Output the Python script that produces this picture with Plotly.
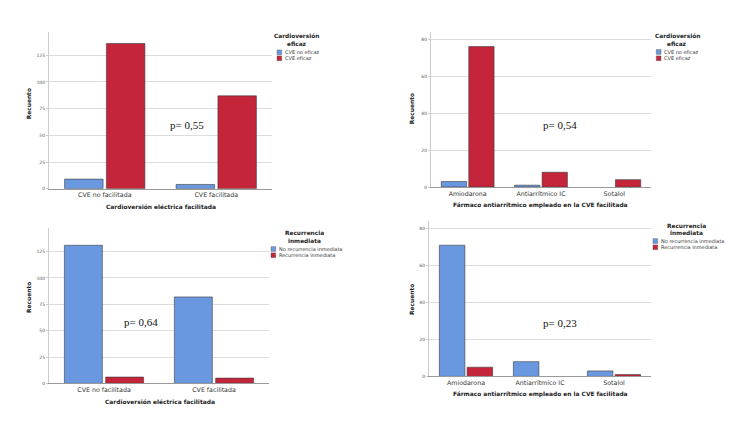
import plotly.graph_objects as go

# ---- data ----
cve_categories = ["CVE no facilitada", "CVE facilitada"]
drug_categories = ["Amiodarona", "Antiarrítmico IC", "Sotalol"]

eficacia_names = ["CVE no eficaz", "CVE eficaz"]
recurrencia_names = ["No recurrencia inmediata", "Recurrencia inmediata"]

# Panel 1: Cardioversión eficaz by CVE facilitada
p1_no_eficaz = [9, 4]
p1_eficaz = [136, 87]
# Panel 2: Cardioversión eficaz by fármaco
p2_no_eficaz = [3, 1, 0]
p2_eficaz = [76, 8, 4]
# Panel 3: Recurrencia inmediata by CVE facilitada
p3_no_recurrencia = [131, 82]
p3_recurrencia = [6, 5]
# Panel 4: Recurrencia inmediata by fármaco
p4_no_recurrencia = [71, 8, 3]
p4_recurrencia = [5, 0, 1]

p_values = ["p= 0,55", "p= 0,54", "p= 0,64", "p= 0,23"]
y_ticks_cve = [0, 25, 50, 75, 100, 125]
y_ticks_drug = [0, 20, 40, 60, 80]

BLUE = "#6A98E0"
RED = "#C4253A"
W, H = 744, 443
font_family = "DejaVu Sans"

def px(x):
    return x / W

def py(y):
    return 1 - y / H

fig = go.Figure()

panels = [
    ("", cve_categories, [p1_no_eficaz, p1_eficaz], eficacia_names,
     (49, 272), (32, 190), 147, y_ticks_cve),
    ("2", drug_categories, [p2_no_eficaz, p2_eficaz], eficacia_names,
     (431, 651), (32, 188.3), 84, y_ticks_drug),
    ("3", cve_categories, [p3_no_recurrencia, p3_recurrencia], recurrencia_names,
     (49, 269), (230, 386), 147, y_ticks_cve),
    ("4", drug_categories, [p4_no_recurrencia, p4_recurrencia], recurrencia_names,
     (429, 651), (222.7, 379), 84, y_ticks_drug),
]

for sid, cats, series, names, xd, yd, ymax, yticks in panels:
    for vals, name, col in zip(series, names, [BLUE, RED]):
        fig.add_trace(go.Bar(
            x=cats, y=vals, name=name, marker_color=col,
            marker_line=dict(color="#3a3a3a", width=[0 if v == 0 else 0.6 for v in vals]),
            xaxis="x" + sid, yaxis="y" + sid, showlegend=False,
        ))
    fig.layout["xaxis" + sid] = dict(
        domain=[px(xd[0]), px(xd[1])], anchor="y" + sid,
        showline=True, linecolor="#999999", linewidth=1,
        showgrid=False, ticks="", tickfont=dict(size=6.3, color="#333333", family=font_family),
        fixedrange=True,
    )
    fig.layout["yaxis" + sid] = dict(
        domain=[py(yd[1]), py(yd[0])], anchor="x" + sid,
        range=[0, ymax], tickvals=yticks,
        showline=True, linecolor="#cccccc", linewidth=1,
        showgrid=True, gridcolor="#dddddd", gridwidth=1,
        ticks="outside", ticklen=2, tickcolor="#cccccc",
        tickfont=dict(size=4.5, color="#555555", family=font_family),
        zeroline=False, fixedrange=True,
    )

annotations = []
shapes = []

def ann(text, x, y, size, color="#222222", family=font_family, xanchor="center", angle=0):
    annotations.append(dict(text=text, x=px(x), y=py(y), xref="paper", yref="paper",
                            xanchor=xanchor, yanchor="middle", showarrow=False, textangle=angle,
                            font=dict(size=size, color=color, family=family)))

# axis titles
x_titles = [
    ("Cardioversión eléctrica facilitada", 161, 208),
    ("Fármaco antiarrítmico empleado en la CVE facilitada", 540, 207),
    ("Cardioversión eléctrica facilitada", 160, 405),
    ("Fármaco antiarrítmico empleado en la CVE facilitada", 540, 397),
]
for t, x, y in x_titles:
    ann("<b>" + t + "</b>", x, y, 5.9)
for x, y in [(29, 105), (412, 109), (29, 300), (412, 301)]:
    ann("<b>Recuento</b>", x, y, 5.9, angle=-90)
for t, (x, y) in zip(p_values, [(187, 126), (560, 126), (141, 324), (560, 325)]):
    ann(t, x, y, 11, color="#111111", family="Liberation Serif")

# legends (title center x, title line1 y, swatch left x, row1 y, row2 y, title, names)
legends = [
    (296.7, 36.7, 277, 52.7, 58.7, ["Cardioversión", "eficaz"], eficacia_names),
    (677, 36.7, 656.3, 52.3, 58.7, ["Cardioversión", "eficaz"], eficacia_names),
    (304, 235, 271, 250.7, 257, ["Recurrencia", "inmediata"], recurrencia_names),
    (686.3, 227.7, 653, 242.7, 249, ["Recurrencia", "inmediata"], recurrencia_names),
]
for tx, ty, sx, r1, r2, title, names in legends:
    ann("<b>" + title[0] + "</b>", tx, ty, 5.8)
    ann("<b>" + title[1] + "</b>", tx, ty + 7.3, 5.8)
    for ry, name, col in zip([r1, r2], names, [BLUE, RED]):
        shapes.append(dict(type="rect", xref="paper", yref="paper",
                           x0=px(sx), x1=px(sx + 4.7), y0=py(ry + 2.4), y1=py(ry - 2.4),
                           fillcolor=col, line=dict(color="#555555", width=0.4)))
        ann(name, sx + 5.7, ry, 5, color="#333333", xanchor="left")

fig.update_layout(
    width=W, height=H, margin=dict(l=0, r=0, t=0, b=0),
    paper_bgcolor="white", plot_bgcolor="white",
    barmode="group", bargap=0.25, bargroupgap=0.08,
    annotations=annotations, shapes=shapes, showlegend=False,
)
fig.write_html("out.html", config={"displayModeBar": False},
               post_script="document.body.style.margin='0px';")
